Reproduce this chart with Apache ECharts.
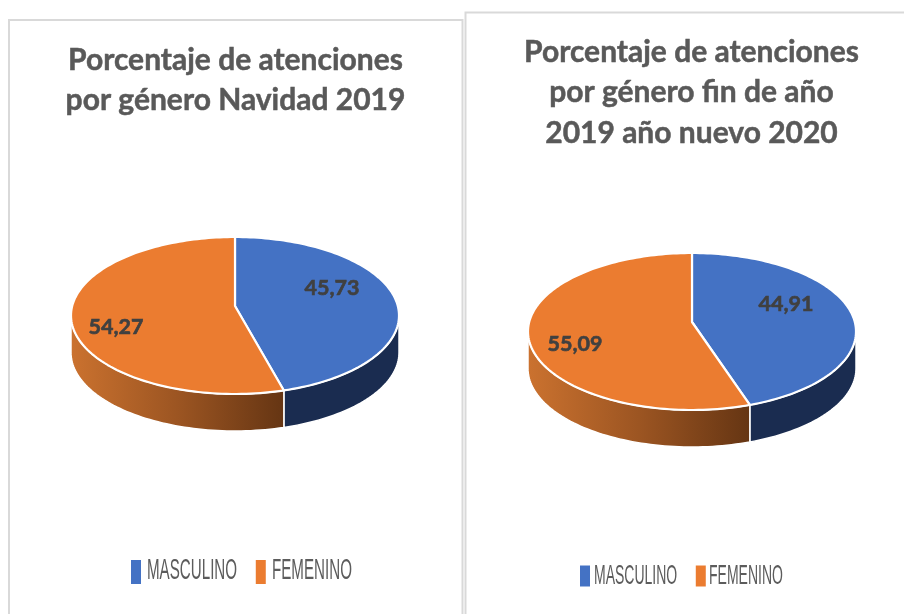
<!DOCTYPE html>
<html>
<head>
<meta charset="utf-8">
<style>html,body{margin:0;padding:0;background:#fff}#c{width:904px;height:614px}</style>
<script src="https://cdn.jsdelivr.net/npm/echarts@6/dist/echarts.min.js"></script>
</head>
<body>
<div id="c"></div>
<script>
var categories = ['MASCULINO', 'FEMENINO'];
var navidadValues = [45.73, 54.27];
var finDeAnoValues = [44.91, 55.09];
var navidadTitle = 'Porcentaje de atenciones\npor género Navidad 2019';
var finDeAnoTitle = 'Porcentaje de atenciones\npor género fin de año\n2019 año nuevo 2020';

var topColors = ['#4472C4', '#EB7C30'];
var pies = [
  {values: navidadValues, cx: 235, cy: 315.5, labels: [[332, 288], [116, 327]]},
  {values: finDeAnoValues, cx: 692, cy: 331.5, labels: [[786, 304], [575, 344]]}
];
var RX = 162.8, RY = 78.5, LIFT = -9.5, PERSP = -0.121, DEPTH = 37;
var WALL_FROM = 97, WALL_TO = 263;

function project(pie, deg, r) {
  var t = deg * Math.PI / 180;
  var v = -Math.cos(t) * r;
  var w = 1 + PERSP * v;
  return [pie.cx + RX * r * Math.sin(t) / w, pie.cy + (RY * v + LIFT) / w];
}
function arc(pie, a, b) {
  var pts = [], n = Math.max(2, Math.ceil(Math.abs(b - a) / 1.5));
  for (var i = 0; i <= n; i++) pts.push(project(pie, a + (b - a) * i / n, 1));
  return pts;
}
function sliceRender(pieIndex, sliceIndex) {
  return function (params, api) {
    var pie = pies[pieIndex];
    var total = pie.values.reduce(function (s, x) { return s + x; }, 0);
    var before = pie.values.slice(0, sliceIndex).reduce(function (s, x) { return s + x; }, 0);
    var value = api.value(0);
    var a = before / total * 360, b = a + value / total * 360;
    var children = [];
    var wa = Math.max(a, WALL_FROM), wb = Math.min(b, WALL_TO);
    if (wb > wa) {
      var upper = arc(pie, wa, wb);
      var lower = upper.map(function (p) { return [p[0], p[1] + DEPTH]; }).reverse();
      children.push({
        type: 'polygon',
        shape: {points: upper.concat(lower)},
        style: {
          fill: sliceIndex === 0 ? '#1A2C50' : {
            type: 'linear', x: 0, y: 0, x2: 1, y2: 0,
            colorStops: [{offset: 0, color: '#CB722F'}, {offset: 0.5, color: '#9C5522'}, {offset: 1, color: '#653513'}]
          },
          stroke: '#fff', lineWidth: 1.5
        }
      });
    }
    children.push({
      type: 'polygon',
      shape: {points: [project(pie, 0, 0)].concat(arc(pie, a, b))},
      style: {fill: topColors[sliceIndex], stroke: '#fff', lineWidth: 2.2, lineJoin: 'round'}
    });
    children.push({
      type: 'text',
      style: {
        text: String(value).replace('.', ','),
        x: pie.labels[sliceIndex][0], y: pie.labels[sliceIndex][1],
        align: 'center', verticalAlign: 'middle',
        font: 'bold 21.5px Lato, "Open Sans", sans-serif', fill: '#404040',
        stroke: '#404040', lineWidth: 0.6
      }
    });
    return {type: 'group', children: children};
  };
}

var series = [];
pies.forEach(function (pie, pi) {
  categories.forEach(function (name, si) {
    series.push({
      type: 'custom', name: name, coordinateSystem: 'none',
      itemStyle: {color: topColors[si]},
      data: [[pie.values[si]]],
      renderItem: sliceRender(pi, si),
      silent: true, animation: false
    });
  });
});

function legend(left, top, h, gap) {
  return {
    left: left, top: top, orient: 'horizontal', icon: 'rect', selectedMode: false,
    itemWidth: 10, itemHeight: h, itemGap: gap, padding: 0,
    data: categories,
    formatter: function () { return ' '; },
    textStyle: {fontSize: 10, color: '#595959'}
  };
}
function legendText(name, x, y, size, scaleX) {
  return {
    type: 'text', x: x, y: y, scaleX: scaleX, silent: true,
    style: {text: name, font: size + 'px "Liberation Sans", sans-serif', fill: '#5c5c5c', verticalAlign: 'middle', align: 'left'}
  };
}
function title(text, x, y) {
  return {
    text: text, left: x, top: y, textAlign: 'center', padding: 0,
    textStyle: {fontFamily: 'Lato, "Open Sans", sans-serif', fontWeight: 'bold', fontSize: 30, lineHeight: 40.5, color: '#595959',
      textBorderColor: '#595959', textBorderWidth: 0.5}
  };
}

var chart = echarts.init(document.getElementById('c'), null, {renderer: 'canvas'});
chart.setOption({
  backgroundColor: '#fff',
  animation: false,
  title: [title(navidadTitle, 235.5, 40), title(finDeAnoTitle, 691.5, 32)],
  legend: [legend(131, 560, 24, 107), legend(580, 565.5, 21, 98)],
  graphic: [
    {type: 'rect', shape: {x: 9, y: 20, width: 453.5, height: 620}, style: {fill: 'none', stroke: '#d9d9d9', lineWidth: 2}, silent: true, z: -1},
    {type: 'rect', shape: {x: 465.5, y: 12.5, width: 480, height: 640}, style: {fill: 'none', stroke: '#d9d9d9', lineWidth: 2}, silent: true, z: -1},
    legendText(categories[0], 147, 571, 30, 0.505),
    legendText(categories[1], 272, 571, 30, 0.505),
    legendText(categories[0], 594, 576, 28, 0.5),
    legendText(categories[1], 709, 576, 28, 0.5)
  ],
  series: series
});
</script>
</body>
</html>
